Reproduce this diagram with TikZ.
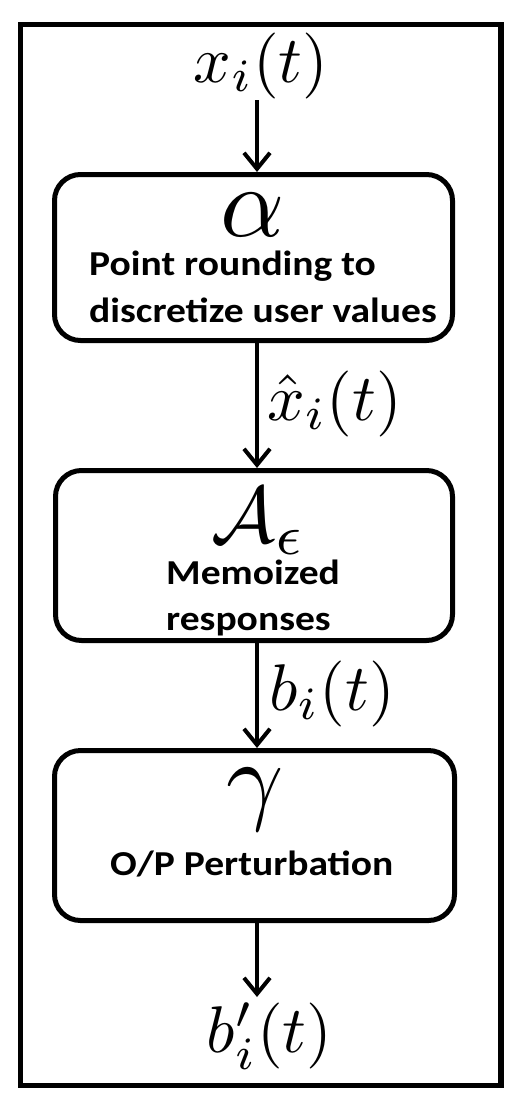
\documentclass[tikz,border=0pt]{standalone}
\usepackage{fontspec}
\newfontfamily\boxfont{Carlito}
\usetikzlibrary{arrows.meta}
\begin{document}
\begin{tikzpicture}[x=1pt,y=-1pt,
  stagebox/.style={draw, line width=5pt, rounded corners=26pt, inner sep=0pt},
  flow/.style={line width=4pt, -{Straight Barb[length=16pt,width=26pt,line width=4pt]}},
  mathlbl/.style={anchor=base, inner sep=0pt, scale=6.6},
  greek/.style={anchor=base, inner sep=0pt, scale=10},
  desc/.style={anchor=base west, inner sep=0pt, xscale=1.13, font=\boxfont\bfseries\fontsize{35}{40}\selectfont}]
\useasboundingbox (0,0) rectangle (522,1104);
\draw[line width=5.5pt] (20.5,24.5) rectangle (501,1085.5);
% boxes
\node[stagebox, minimum width=398pt, minimum height=166pt] (b1) at (253.5,257.5) {};
\node[stagebox, minimum width=397pt, minimum height=170pt] (b2) at (254,555.5) {};
\node[stagebox, minimum width=400pt, minimum height=170pt] (b3) at (254.5,835.5) {};
% box contents
\node[greek] (alpha) at (253,236) {$\alpha$};
\node[desc] (t1a) at (89,275) {Point rounding to};
\node[desc] (t1b) at (89,322) {discretize user values};
\node[anchor=base, inner sep=0pt, scale=8] (calA) at (258.5,542) {$\mathcal{A}_\epsilon$};
\node[desc] (t2a) at (166,584) {Memoized};
\node[desc] (t2b) at (166,630) {responses};
\node[greek] (gam) at (255,811) {$\gamma$};
\node[desc] (t3) at (110,875) {O/P Perturbation};
% labels
\node[mathlbl] (xin) at (261,82) {$x_i(t)$};
\node[mathlbl] (xhat) at (334.5,420) {$\hat{x}_i(t)$};
\node[mathlbl] (bi) at (332,710) {$b_i(t)$};
\node[mathlbl] (bout) at (269.5,1052) {$b'_i(t)$};
% connectors
\coordinate (a0) at (257,100);
\coordinate (a4) at (257,997);
\draw[flow] (a0) -- (a0 |- b1.north);
\draw[flow] (a0 |- b1.south) -- (a0 |- b2.north);
\draw[flow] (a0 |- b2.south) -- (a0 |- b3.north);
\draw[flow] (a0 |- b3.south) -- (a4);
\end{tikzpicture}
\end{document}
